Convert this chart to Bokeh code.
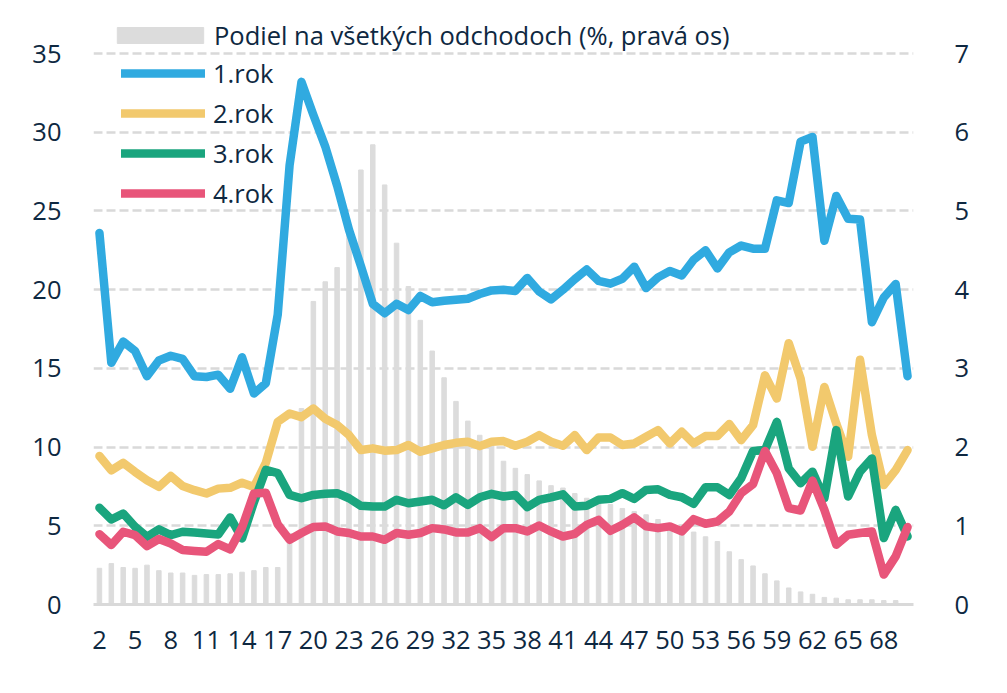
from bokeh.plotting import figure
from bokeh.models import Range1d, LinearAxis, FixedTicker, Legend, LegendItem
from bokeh.embed import file_html
from bokeh.resources import INLINE

ages = list(range(2, 71))

share = [0.46, 0.52, 0.47, 0.46, 0.50, 0.43, 0.40, 0.40, 0.37, 0.38,
         0.38, 0.39, 0.41, 0.43, 0.47, 0.47, 0.90, 2.49, 3.85, 4.10,
         4.28, 4.75, 5.52, 5.84, 5.33, 4.59, 4.04, 3.61, 3.22, 2.88,
         2.58, 2.33, 2.15, 2.07, 1.82, 1.73, 1.65, 1.57, 1.51, 1.48,
         1.41, 1.35, 1.31, 1.27, 1.22, 1.18, 1.14, 1.08, 1.03, 0.99,
         0.92, 0.86, 0.80, 0.67, 0.57, 0.49, 0.39, 0.30, 0.21, 0.16,
         0.13, 0.09, 0.08, 0.06, 0.06, 0.06, 0.05, 0.05, 0.0]

rok1 = [23.6, 15.35, 16.7, 16.1, 14.5, 15.5, 15.8, 15.6, 14.5, 14.45,
        14.6, 13.7, 15.7, 13.4, 14.05, 18.4, 27.9, 33.2, 31.1, 29.1,
        26.6, 23.8, 21.5, 19.1, 18.5, 19.1, 18.7, 19.6, 19.2, 19.3,
        19.36, 19.42, 19.72, 19.95, 19.99, 19.92, 20.74, 19.88, 19.38, 19.99,
        20.67, 21.28, 20.56, 20.38, 20.69, 21.46, 20.1, 20.78, 21.19, 20.9,
        21.9, 22.5, 21.35, 22.37, 22.8, 22.6, 22.6, 25.67, 25.5, 29.4,
        29.7, 23.1, 25.95, 24.5, 24.45, 17.93, 19.5, 20.36, 14.5]

rok2 = [9.43, 8.52, 9.0, 8.42, 7.89, 7.47, 8.16, 7.53, 7.26, 7.05,
        7.36, 7.41, 7.74, 7.47, 9.0, 11.6, 12.13, 11.9, 12.45, 11.8,
        11.4, 10.76, 9.81, 9.92, 9.77, 9.81, 10.13, 9.7, 9.92, 10.13,
        10.27, 10.34, 10.06, 10.34, 10.38, 10.08, 10.34, 10.76, 10.34, 10.08,
        10.76, 9.81, 10.61, 10.61, 10.13, 10.23, 10.65, 11.08, 10.23, 10.97,
        10.23, 10.7, 10.7, 11.46, 10.44, 11.39, 14.56, 13.08, 16.6, 14.35,
        10.02, 13.82, 11.5, 9.39, 15.55, 10.76, 7.59, 8.54, 9.81]

rok3 = [6.14, 5.4, 5.78, 4.94, 4.3, 4.77, 4.41, 4.62, 4.58, 4.51,
        4.45, 5.53, 4.2, 6.5, 8.55, 8.35, 6.96, 6.75, 6.96, 7.03,
        7.07, 6.75, 6.27, 6.22, 6.22, 6.65, 6.43, 6.54, 6.65, 6.3,
        6.81, 6.33, 6.81, 7.03, 6.86, 6.96, 6.18, 6.65, 6.81, 7.0,
        6.22, 6.27, 6.65, 6.71, 7.07, 6.71, 7.28, 7.32, 6.96, 6.81,
        6.39, 7.45, 7.45, 6.96, 8.02, 9.75, 9.81, 11.6, 8.65, 7.7,
        8.44, 6.75, 11.08, 6.86, 8.44, 9.28, 4.22, 6.01, 4.32]

rok4 = [4.47, 3.78, 4.62, 4.41, 3.71, 4.16, 3.88, 3.46, 3.4, 3.35,
        3.84, 3.5, 4.9, 7.05, 7.1, 5.1, 4.11, 4.54, 4.92, 4.96,
        4.64, 4.54, 4.32, 4.32, 4.11, 4.54, 4.43, 4.54, 4.85, 4.77,
        4.58, 4.58, 4.85, 4.28, 4.85, 4.85, 4.64, 5.02, 4.64, 4.32,
        4.49, 5.06, 5.38, 4.68, 5.06, 5.53, 4.96, 4.85, 4.96, 4.64,
        5.42, 5.13, 5.27, 5.91, 7.07, 7.65, 9.75, 8.33, 6.12, 5.97,
        7.87, 6.01, 3.8, 4.43, 4.54, 4.64, 1.9, 3.06, 4.92]

x_ticks = list(range(2, 69, 3))
left_ticks = [0, 5, 10, 15, 20, 25, 30, 35]
right_ticks = [0, 1, 2, 3, 4, 5, 6, 7]

series_names = ["1.rok", "2.rok", "3.rok", "4.rok"]
series_colors = ["#30AAE0", "#F2C96D", "#1AA57E", "#E8557A"]
bar_name = "Podiel na všetkých odchodoch (%, pravá os)"

FONT = "Open Sans"
TXT = "#0E2841"
FS = "25.5px"

# layout (pixels): the frame reaches above the 35-line so the legend fits inside it
FRAME_TOP, GRID_TOP, FRAME_BOTTOM = 12, 53, 604
stretch = (FRAME_BOTTOM - FRAME_TOP) / (FRAME_BOTTOM - GRID_TOP)

p = figure(width=1000, height=690, x_range=Range1d(1.5, 70.5),
           y_range=Range1d(0, left_ticks[-1] * stretch),
           output_backend="svg", toolbar_location=None,
           min_border_left=93, min_border_right=87, min_border_top=FRAME_TOP,
           min_border_bottom=690 - FRAME_BOTTOM)
p.extra_y_ranges = {"right": Range1d(0, right_ticks[-1] * stretch)}
p.outline_line_color = None
p.background_fill_color = "white"
p.border_fill_color = "white"

bars = p.vbar(x=ages, top=share, width=0.38, color="#DCDCDC", y_range_name="right")

line_rs = []
for vals, col in zip([rok1, rok2, rok3, rok4], series_colors):
    r = p.line(ages, vals, line_width=8.5, color=col, line_join="round", line_cap="round")
    line_rs.append(r)

p.xaxis.ticker = FixedTicker(ticks=x_ticks)
p.yaxis.ticker = FixedTicker(ticks=left_ticks)
raxis = LinearAxis(y_range_name="right", ticker=FixedTicker(ticks=right_ticks))
p.add_layout(raxis, "right")

for ax in [p.xaxis[0], p.yaxis[0], raxis]:
    ax.major_tick_line_color = None
    ax.minor_tick_line_color = None
    ax.major_label_text_font = FONT
    ax.major_label_text_font_size = FS
    ax.major_label_text_color = TXT
    ax.axis_line_color = None

p.xaxis[0].axis_line_color = "#D9D9D9"
p.xaxis[0].axis_line_width = 3
p.xaxis[0].major_label_standoff = 20
p.yaxis[0].major_label_standoff = 26
raxis.major_label_standoff = 35

p.xgrid.visible = False
p.ygrid.grid_line_color = "#D9D9D9"
p.ygrid.grid_line_width = 2.5
p.ygrid.grid_line_dash = "9 4"

common = dict(padding=0, margin=0, border_line_color=None, background_fill_alpha=0,
              label_text_font=FONT, label_text_font_size=FS, label_text_color=TXT)

leg1 = Legend(items=[LegendItem(label=bar_name, renderers=[bars])],
              location=(13, FRAME_BOTTOM - 52), glyph_width=108, glyph_height=20,
              label_standoff=0, **common)
leg2 = Legend(items=[LegendItem(label=n, renderers=[r]) for n, r in zip(series_names, line_rs)],
              location=(28, FRAME_BOTTOM - 213), glyph_width=84, glyph_height=40, spacing=0,
              label_standoff=8, **common)
p.add_layout(leg1, "center")
p.add_layout(leg2, "center")

open("out.html", "w").write(file_html(p, INLINE))
